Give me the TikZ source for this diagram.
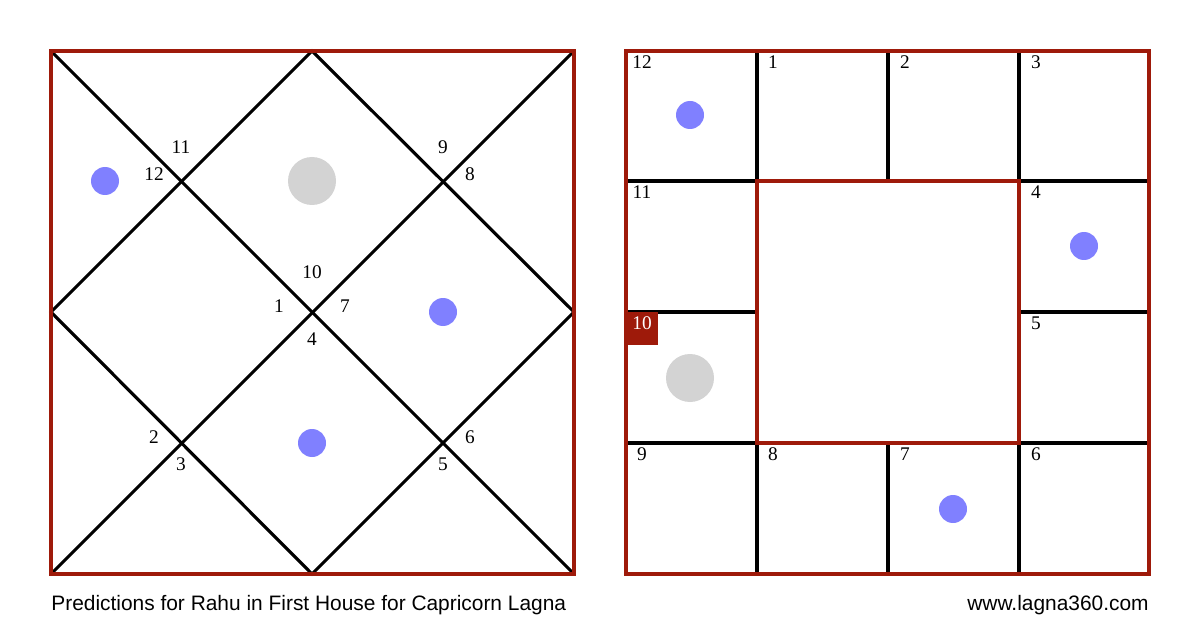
\documentclass[tikz,border=0pt]{standalone}
\usepackage{fontspec}
\setmainfont{Liberation Serif}
\newfontfamily\footfont{Liberation Sans}
\usetikzlibrary{positioning}

\definecolor{chartred}{HTML}{9E1A0A}
\definecolor{planet}{HTML}{8080FF}
\definecolor{shade}{HTML}{D3D3D3}

\tikzset{
  border/.style={chartred,line width=1.8pt},
  house/.style={black,line width=1.8pt},
  num/.style={font=\fontsize{11}{12}\selectfont,inner sep=0pt},
  dot/.style={fill=planet},
  moon/.style={fill=shade}
}

\begin{document}
\begin{tikzpicture}[x=0.02cm,y=-0.02cm]
\useasboundingbox[fill=white] (0,0) rectangle (1200,628);

% north indian chart
\coordinate (a) at (51,51);
\coordinate (b) at (574,51);
\coordinate (c) at (574,574);
\coordinate (d) at (51,574);
\coordinate (top) at (312,51);
\coordinate (rgt) at (574,312);
\coordinate (bot) at (312,574);
\coordinate (lft) at (51,312);
\draw[house] (a) -- (c);
\draw[house] (b) -- (d);
\draw[house] (top) -- (rgt) -- (bot) -- (lft) -- cycle;
\draw[border] (a) rectangle (c);
\foreach \x/\y/\t in {181/147/11, 154/174/12, 443/147/9, 470/174/8,
  312/272/10, 279/306/1, 345/306/7, 312/339/4,
  154/437/2, 181/464/3, 470/437/6, 443/464/5}
  \node[num] (l\t) at (\x,\y) {\t};
\fill[dot] (105,181) circle [radius=14];
\fill[moon] (312,181) circle [radius=24];
\fill[dot] (443,312) circle [radius=14];
\fill[dot] (312,443) circle [radius=14];

% south indian chart
\foreach \x in {757,888,1019}
  \draw[house] (\x,51) -- (\x,574);
\foreach \y in {181,312,443}
  \draw[house] (626,\y) -- (1149,\y);
\fill[white] (757,181) rectangle (1019,443);
\draw[border] (757,181) rectangle (1019,443);
\draw[border] (626,51) rectangle (1149,574);
\fill[chartred] (626,312) rectangle (658,345);
\foreach \x/\y/\t in {642/62/12, 773/62/1, 905/62/2, 1036/62/3,
  642/192/11, 1036/192/4, 1036/323/5,
  642/454/9, 773/454/8, 905/454/7, 1036/454/6}
  \node[num] (r\t) at (\x,\y) {\t};
\node[num,white] (r10) at (642,323) {10};
\fill[dot] (690,115) circle [radius=14];
\fill[dot] (1084,246) circle [radius=14];
\fill[moon] (690,378) circle [radius=24];
\fill[dot] (953,509) circle [radius=14];

% footer
\node[anchor=west,inner sep=0pt,font=\footfont\fontsize{11.9}{13}\selectfont] (title) at (51,605) {Predictions for Rahu in First House for Capricorn Lagna};
\node[anchor=east,inner sep=0pt,font=\footfont\fontsize{11.9}{13}\selectfont] (site) at (1149,605) {www.lagna360.com};
\end{tikzpicture}
\end{document}
